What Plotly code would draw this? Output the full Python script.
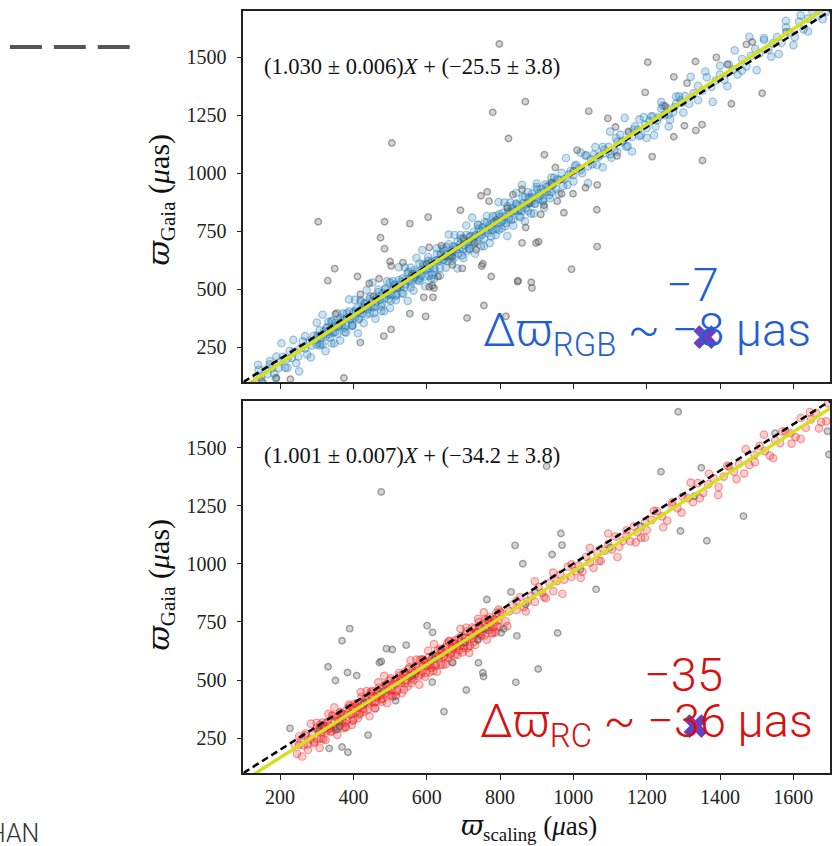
import plotly.graph_objects as go

# ---------------------------------------------------------------------------
# Data: asteroseismic scaling parallax vs Gaia parallax (micro-arcsec)
# ---------------------------------------------------------------------------

# Red-giant-branch stars kept in the fit (core of the relation)
rgb_x = [
    130, 136, 142, 148, 154, 160, 166, 172, 178, 184, 190, 196, 202, 208, 214, 220, 226, 232, 238, 244,
    250, 256, 262, 268, 274, 280, 286, 292, 298,
    300, 304, 308, 312, 316, 320, 324, 328, 332, 336, 340, 344, 348, 352, 356, 360, 364, 368, 372, 376,
    380, 384, 388, 392, 396, 400, 404, 408, 412, 416, 420, 424, 428, 432, 436, 440, 444, 448, 452, 456,
    460, 464, 468, 472, 476, 480, 484, 488, 492, 496, 500, 504, 508, 512, 516, 520, 524, 528, 532, 536,
    540, 544, 548, 552, 556, 560, 564, 568, 572, 576, 580, 584, 588, 592, 596, 600, 604, 608, 612, 616,
    620, 624, 628, 632, 636, 640, 644, 648, 652, 656, 660, 664, 668, 672, 676, 680, 684, 688, 692, 696,
    700, 704, 708, 712, 716, 720, 724, 728, 732, 736, 740, 744, 748, 752, 756, 760, 764, 768, 772, 776,
    780, 784, 788, 792, 796, 800, 804, 808, 812, 816, 820, 824, 828, 832, 836, 840, 844, 848, 852, 856,
    860, 864, 868, 872, 876, 880, 884, 888, 892, 896, 900, 904, 908, 912, 916, 920, 924, 928, 932, 936,
    940, 944, 948,
    302, 310, 318, 326, 334, 342, 350, 358, 366, 374, 382, 390, 398, 406, 414, 422, 430, 438, 446, 454,
    462, 470, 478, 486, 494, 502, 510, 518, 526, 534, 542, 550, 558, 566, 574, 582, 590, 598, 606, 614,
    622, 630, 638, 646, 654, 662, 670, 678, 686, 694, 702, 710, 718, 726, 734, 742, 750, 758, 766, 774,
    782, 790, 798, 806, 814, 822, 830, 838, 846, 854, 862, 870, 878, 886, 894, 902, 910, 918, 926, 934,
    942,
    952, 960, 968, 976, 984, 992, 1000, 1008, 1016, 1024, 1032, 1040, 1048, 1056, 1064, 1072, 1080, 1088,
    1096, 1104, 1112, 1120, 1128, 1136, 1144, 1152, 1160, 1168, 1176, 1184, 1192, 1200, 1208, 1216, 1224,
    1232, 1240, 1248, 1256, 1264, 1272, 1280, 1288, 1296,
    956, 972, 988, 1004, 1020, 1036, 1052, 1068, 1084, 1100, 1116, 1132, 1148, 1164, 1180, 1196, 1212,
    1228, 1244, 1260, 1276, 1292,
    1304, 1316, 1328, 1340, 1352, 1364, 1376, 1388, 1400, 1412, 1424, 1436, 1448, 1460, 1472, 1484, 1496,
    1508, 1520, 1532, 1544, 1556, 1568, 1580, 1592, 1604, 1616, 1628, 1640, 1652, 1664, 1676, 1688, 1700,
]
rgb_y = [
    87, 123, 152, 122, 95, 153, 134, 176, 160, 136, 210, 160, 189, 208, 162, 199, 234, 204, 231, 181,
    210, 246, 275, 245, 219, 277, 257, 299, 283,
    262, 296, 323, 291, 262, 318, 296, 336, 318, 292, 364, 313, 339, 356, 308, 343, 376, 344, 368, 316,
    343, 378, 405, 373, 344, 400, 378, 418, 400, 374, 446, 395, 421, 438, 390, 425, 458, 426, 450, 398,
    426, 460, 487, 455, 426, 482, 460, 500, 482, 457, 529, 477, 503, 520, 472, 507, 540, 509, 533, 481,
    508, 542, 569, 537, 508, 565, 543, 583, 565, 539, 611, 559, 585, 603, 555, 590, 623, 591, 615, 563,
    590, 624, 652, 620, 591, 647, 625, 665, 647, 621, 694, 642, 668, 685, 637, 672, 705, 673, 698, 646,
    673, 707, 734, 702, 673, 729, 707, 748, 730, 704, 776, 724, 750, 767, 719, 755, 788, 756, 780, 728,
    755, 789, 816, 785, 756, 812, 790, 830, 812, 786, 858, 806, 833, 850, 802, 837, 870, 838, 862, 810,
    838, 872, 899, 867, 838, 894, 872, 912, 895, 869, 941, 889, 915, 932, 884, 919, 952, 921, 945, 893,
    920, 954, 981,
    301, 264, 305, 332, 307, 361, 316, 339, 361, 333, 396, 369, 344, 407, 370, 412, 439, 414, 468, 422,
    446, 468, 440, 502, 476, 451, 514, 477, 518, 546, 521, 575, 529, 553, 575, 547, 609, 583, 558, 621,
    584, 626, 653, 628, 682, 637, 660, 682, 654, 717, 690, 665, 728, 691, 733, 760, 735, 789, 744, 767,
    789, 761, 824, 797, 772, 835, 799, 840, 867, 842, 897, 851, 874, 896, 869, 931, 904, 879, 942, 906,
    947,
    933, 971, 1002, 975, 950, 1010, 993, 1037, 1023, 1001, 1077, 1030, 1060, 1081, 1037, 1077, 1114, 1086,
    1114, 1067, 1098, 1136, 1167, 1140, 1115, 1175, 1157, 1202, 1188, 1166, 1242, 1195, 1225, 1246, 1202,
    1241, 1279, 1251, 1279, 1231, 1263, 1301, 1332, 1304,
    974, 946, 995, 1031, 1014, 1077, 1039, 1071, 1101, 1082, 1152, 1133, 1117, 1188, 1160, 1209, 1245,
    1228, 1291, 1253, 1285, 1315,
    1333, 1300, 1345, 1377, 1356, 1414, 1373, 1400, 1426, 1403, 1469, 1447, 1426, 1493, 1461, 1506, 1537,
    1517, 1575, 1533, 1561, 1587, 1563, 1630, 1607, 1587, 1654, 1621, 1667, 1698, 1677, 1736, 1694, 1721,
]

# Red-giant-branch stars kept in the fit (wider scatter around the relation)
rgb_halo_x = [
    140, 156, 172, 188, 204, 220, 236, 252, 268, 284,
    300, 308, 316, 324, 332, 340, 348, 356, 364, 372, 380, 388, 396, 404, 412, 420, 428, 436, 444, 452,
    460, 468, 476, 484, 492, 500, 508, 516, 524, 532, 540, 548, 556, 564, 572, 580, 588, 596, 604, 612,
    620, 628, 636, 644, 652, 660, 668, 676, 684, 692, 700, 708, 716, 724, 732, 740, 748, 756, 764, 772,
    780, 788, 796, 804, 812, 820, 828, 836, 844, 852, 860, 868, 876, 884, 892, 900,
    920, 940, 960, 980, 1000, 1020, 1040, 1060, 1080, 1100, 1120, 1140, 1160, 1180, 1200, 1220, 1240,
    1260, 1280, 1300, 1320, 1340, 1360, 1380, 1400, 1420, 1440, 1460, 1480, 1500, 1520, 1540, 1560,
    1580, 1600, 1620, 1640, 1660, 1680, 1700,
]
rgb_halo_y = [
    174, 65, 190, 116, 267, 161, 282, 146, 298, 206,
    356, 257, 390, 233, 359, 266, 267, 396, 279, 395, 313, 456, 342, 454, 310, 453, 354, 495, 396, 529,
    373, 499, 406, 406, 535, 419, 535, 453, 595, 482, 594, 450, 593, 494, 635, 536, 669, 513, 639, 546,
    546, 676, 559, 675, 593, 736, 622, 734, 590, 734, 634, 775, 676, 809, 653, 779, 686, 686, 816, 699,
    815, 733, 876, 762, 874, 730, 874, 774, 915, 816, 950, 793, 919, 826, 827, 956,
    852, 981, 911, 1066, 965, 1089, 958, 1113, 1026, 1180, 1093, 1239, 1094, 1233, 1153, 1165, 1307,
    1202, 1331, 1262, 1416, 1315, 1439, 1308, 1464, 1376, 1530, 1443, 1589, 1445, 1583, 1503, 1515,
    1657, 1553, 1681, 1612, 1766, 1665, 1790,
]

# Red-giant-branch stars rejected as outliers
rgb_out_x = [
    798, 869, 780, 823, 505, 304, 485, 554, 604, 692, 748, 765, 770, 835, 860, 870, 898, 474, 485, 500,
    503, 535, 349, 330, 411, 419, 470, 443, 554, 597, 503, 483, 419, 374, 351, 607, 620, 615, 592, 617,
    631, 670, 697, 753, 776, 756, 816, 710, 849, 885, 607, 640, 735, 750, 670,
    1203, 1333, 1390, 1274, 1310, 1196, 1042, 1094, 1115, 1119, 1303, 1334, 1351, 1274, 1215, 1352, 1431,
    1515, 1472, 1488, 1010, 921, 951, 1033, 1065, 968, 999, 956, 920, 911, 974, 1064, 860, 905, 1065,
    995, 848, 887,
    190, 228, 150,
    420, 455, 520, 560, 600, 650, 700, 730, 790, 820, 880, 940, 1000, 1150, 1250, 1420, 1580,
]
rgb_out_y = [
    1558, 1309, 1263, 1150, 1131, 791, 791, 783, 811, 841, 903, 920, 880, 908, 930, 766, 700, 722, 675, 620,
    600, 615, 589, 537, 555, 478, 545, 525, 395, 383, 327, 298, 270, 117, 393, 510, 505, 515, 465, 465,
    555, 605, 590, 610, 555, 430, 383, 376, 537, 530, 680, 688, 670, 600, 640,
    1479, 1482, 1500, 1416, 1389, 1349, 1268, 1237, 1200, 1075, 1205, 1185, 1210, 1158, 1072, 1055, 1300,
    1345, 1556, 1566, 1100, 1080, 1025, 938, 950, 912, 912, 880, 862, 823, 830, 843, 700, 705, 684,
    586, 533, 506,
    117, 112, 104,
    410, 470, 505, 560, 610, 640, 720, 700, 800, 850, 870, 960, 1010, 1180, 1290, 1470, 1610,
]

# Red-clump stars kept in the fit (core of the relation)
rc_x = [
    240, 246, 252, 258, 264, 270, 276, 282, 288, 294, 300,
    302, 306, 310, 314, 318, 322, 326, 330, 334, 338, 342, 346, 350, 354, 358, 362, 366, 370, 374, 378,
    382, 386, 390, 394, 398, 402, 406, 410, 414, 418, 422, 426, 430, 434, 438, 442, 446, 450, 454, 458,
    462, 466, 470, 474, 478, 482, 486, 490, 494, 498, 502, 506, 510, 514, 518, 522, 526, 530, 534, 538,
    542, 546, 550, 554, 558, 562, 566, 570, 574, 578, 582, 586, 590, 594, 598, 602, 606, 610, 614, 618,
    622, 626, 630, 634, 638, 642, 646, 650, 654, 658, 662, 666, 670, 674, 678, 682, 686, 690, 694, 698,
    702, 706, 710, 714, 718, 722, 726, 730, 734, 738, 742, 746, 750, 754, 758, 762, 766, 770, 774, 778,
    782, 786, 790, 794, 798,
    304, 312, 320, 328, 336, 344, 352, 360, 368, 376, 384, 392, 400, 408, 416, 424, 432, 440, 448, 456,
    464, 472, 480, 488, 496, 504, 512, 520, 528, 536, 544, 552, 560, 568, 576, 584, 592, 600, 608, 616,
    624, 632, 640, 648, 656, 664, 672, 680, 688, 696, 704, 712, 720, 728, 736, 744, 752, 760, 768, 776,
    784, 792, 800,
    805, 815, 825, 835, 845, 855, 865, 875, 885, 895, 905, 915, 925, 935, 945, 955, 965, 975, 985, 995,
    1005, 1015, 1025, 1035, 1045, 1055, 1065, 1075, 1085, 1095, 1105, 1115, 1125, 1135, 1145, 1155, 1165,
    1175, 1185, 1195,
    1200, 1214, 1228, 1242, 1256, 1270, 1284, 1298, 1312, 1326, 1340, 1354, 1368, 1382, 1396, 1410, 1424,
    1438, 1452, 1466, 1480, 1494, 1508, 1522, 1536, 1550, 1564, 1578, 1592, 1606, 1620, 1634, 1648, 1662,
    1676, 1690,
]
rc_y = [
    221, 182, 221, 246, 219, 271, 223, 244, 264, 234, 294,
    246, 280, 307, 275, 246, 302, 280, 320, 302, 276, 348, 296, 322, 339, 291, 326, 359, 327, 351, 299,
    326, 360, 387, 355, 326, 382, 360, 400, 382, 356, 428, 376, 402, 419, 371, 406, 439, 407, 431, 379,
    406, 440, 467, 435, 406, 462, 440, 480, 462, 436, 508, 456, 482, 499, 451, 486, 519, 487, 511, 459,
    486, 520, 547, 515, 486, 542, 520, 560, 542, 516, 588, 536, 562, 579, 531, 566, 599, 567, 591, 539,
    566, 600, 627, 595, 566, 622, 600, 640, 622, 596, 668, 616, 642, 659, 611, 646, 679, 647, 671, 619,
    647, 681, 708, 676, 647, 703, 681, 721, 703, 677, 749, 697, 723, 740, 692, 727, 760, 728, 752, 700,
    727, 761, 788, 756, 727,
    285, 248, 289, 316, 291, 345, 299, 322, 344, 316, 378, 351, 326, 389, 352, 393, 420, 395, 449, 403,
    426, 448, 420, 482, 455, 430, 493, 456, 497, 524, 499, 553, 507, 530, 552, 524, 586, 559, 534, 597,
    560, 601, 628, 603, 657, 611, 634, 656, 628, 690, 663, 638, 701, 664, 705, 732, 707, 761, 715, 738,
    760, 732, 794,
    787, 752, 795, 824, 801, 857, 813, 838, 862, 836, 900, 875, 852, 917, 882, 925, 954, 931, 987, 943,
    968, 992, 966, 1030, 1005, 982, 1047, 1012, 1055, 1084, 1061, 1117, 1073, 1098, 1122, 1096, 1160,
    1135, 1112, 1177,
    1145, 1189, 1226, 1204, 1185, 1251, 1239, 1289, 1281, 1265, 1347, 1305, 1341, 1368, 1330, 1375, 1418,
    1396, 1430, 1388, 1425, 1469, 1506, 1484, 1465, 1531, 1519, 1569, 1561, 1545, 1627, 1585, 1621, 1648,
    1610, 1612,
]

# Red-clump stars kept in the fit (wider scatter around the relation)
rc_halo_x = [
    252, 260, 268, 276, 284, 292, 300, 308, 316, 324, 332, 340, 348, 356, 364, 372, 380, 388, 396, 404,
    412, 420, 428, 436, 444, 452, 460, 468, 476, 484, 492, 500, 508, 516, 524, 532, 540, 548, 556, 564,
    572, 580, 588, 596, 604, 612, 620, 628, 636, 644, 652, 660, 668, 676, 684, 692, 700, 708, 716, 724,
    732, 740, 748, 756, 764, 772, 780, 788, 796,
    820, 845, 870, 895, 920, 945, 970, 995, 1020, 1045, 1070, 1095, 1120, 1145, 1170, 1195, 1220, 1245,
    1270, 1295, 1320, 1345, 1370, 1395, 1420, 1445, 1470, 1495, 1520, 1545, 1570, 1595, 1620, 1645,
    1670, 1695,
]
rc_halo_y = [
    258, 171, 262, 200, 312, 228, 316, 208, 317, 242, 354, 281, 382, 264, 362, 293, 296, 394, 307, 398,
    336, 448, 364, 452, 344, 453, 378, 490, 417, 518, 400, 498, 429, 432, 530, 443, 534, 472, 584, 500,
    588, 480, 589, 514, 626, 553, 654, 536, 634, 565, 568, 666, 579, 670, 608, 720, 637, 725, 617, 726,
    651, 763, 690, 791, 673, 771, 702, 705, 803,
    732, 840, 795, 924, 857, 962, 871, 997, 939, 1068, 1012, 1130, 1029, 1144, 1092, 1112, 1227, 1157,
    1265, 1220, 1349, 1282, 1387, 1296, 1422, 1364, 1493, 1437, 1555, 1454, 1569, 1517, 1537, 1652,
    1582, 1690,
]

# Red-clump stars rejected as outliers
rc_out_x = [
    476, 841, 390, 369, 331, 601, 616, 490, 506, 544, 476, 471, 384, 409, 351, 671, 741, 753, 755, 740,
    803, 810, 846, 904, 615, 708, 515, 647, 440, 334, 369, 385, 352, 363, 308, 227, 764, 830,
    1286, 1239, 1349, 1550, 1693, 1697, 1464, 1292, 1364, 1185, 966, 969, 942, 862, 1019, 895, 870, 1062,
    957, 843, 927,
    430, 480, 560, 620, 700, 760, 1100, 1330,
]
rc_out_y = [
    1309, 1079, 721, 669, 557, 734, 705, 635, 631, 650, 580, 575, 532, 519, 498, 574, 574, 531, 515, 672,
    703, 720, 690, 547, 491, 457, 411, 364, 263, 206, 212, 189, 285, 300, 285, 292, 846, 879,
    1654, 1396, 1413, 1561, 1570, 1470, 1205, 1141, 1099, 1160, 1130, 1080, 1040, 1000, 975, 880, 826, 890,
    702, 490, 1419,
    400, 450, 520, 590, 660, 720, 1070, 1290,
]

# Linear fits  y = slope * x + intercept  (with quoted uncertainties)
fit_slope = [1.030, 1.001]
fit_slope_err = [0.006, 0.007]
fit_intercept = [-25.5, -34.2]
fit_intercept_err = [3.8, 3.8]

# Parallax offset summary for each population
offset_label = ["RGB", "RC"]
offset_value = [-8, -36]
offset_prev = [-7, -35]
cross_x = [1360, 1333]
cross_y = [294, 302]

axis_range = [100, 1700]
x_ticks = [200, 400, 600, 800, 1000, 1200, 1400, 1600]
y_ticks = [250, 500, 750, 1000, 1250, 1500]

# ---------------------------------------------------------------------------
# Page geometry (pixels)
# ---------------------------------------------------------------------------
W, H = 832, 846
PLOT_LEFT = 244
PANEL_TOP = [11, 401]
PANEL_BOTTOM = [382, 773]


def fx(px):
    return px / W


def fy(py):
    return 1 - py / H


SERIF = "Liberation Serif"
SANS = "Roboto"
BLUE_TXT = "#1f5fd6"
RED_TXT = "#d5100f"
PURPLE = "#6a3fc1"
VARPI = "<span style='font-family:DejaVu Serif'><i>ϖ</i></span>"

fig = go.Figure()

panels = [
    dict(x=rgb_x + rgb_halo_x, y=rgb_y + rgb_halo_y, ox=rgb_out_x, oy=rgb_out_y,
         fill="rgba(31,119,180,0.22)", edge="rgba(31,119,180,0.40)", xa="x", ya="y"),
    dict(x=rc_x + rc_halo_x, y=rc_y + rc_halo_y, ox=rc_out_x, oy=rc_out_y,
         fill="rgba(235,25,25,0.21)", edge="rgba(235,25,25,0.40)", xa="x2", ya="y2"),
]

for i, p in enumerate(panels):
    fig.add_trace(go.Scatter(
        x=p["x"], y=p["y"], mode="markers", xaxis=p["xa"], yaxis=p["ya"],
        marker=dict(size=7.5, color=p["fill"], line=dict(color=p["edge"], width=1.2)),
        hoverinfo="skip", showlegend=False))
    fig.add_trace(go.Scatter(
        x=p["ox"], y=p["oy"], mode="markers", xaxis=p["xa"], yaxis=p["ya"],
        marker=dict(size=6.5, color="rgba(90,90,90,0.26)",
                    line=dict(color="rgba(80,80,80,0.50)", width=1.4)),
        hoverinfo="skip", showlegend=False))
    # one-to-one reference line
    fig.add_trace(go.Scatter(
        x=axis_range, y=axis_range, mode="lines", xaxis=p["xa"], yaxis=p["ya"],
        line=dict(color="black", width=2.5, dash="7px,4px"),
        hoverinfo="skip", showlegend=False))
    # fitted relation
    fit_y = [fit_slope[i] * v + fit_intercept[i] for v in axis_range]
    fig.add_trace(go.Scatter(
        x=axis_range, y=fit_y, mode="lines", xaxis=p["xa"], yaxis=p["ya"],
        line=dict(color="#d6df1e", width=3.4),
        hoverinfo="skip", showlegend=False))
    # offset marker
    fig.add_trace(go.Scatter(
        x=[cross_x[i]], y=[cross_y[i]], mode="markers", xaxis=p["xa"], yaxis=p["ya"],
        marker=dict(symbol="x", size=21, color=PURPLE, line=dict(width=0)),
        hoverinfo="skip", showlegend=False))

axis_common = dict(
    range=axis_range, showgrid=False, zeroline=False, showline=True, mirror=True,
    linecolor="#222222", linewidth=1.6, ticks="outside", ticklen=5, tickwidth=1.2,
    tickcolor="#222222", tickfont=dict(family=SERIF, size=20, color="#222222"),
)

fig.update_layout(
    width=W, height=H, margin=dict(l=0, r=0, t=0, b=0),
    paper_bgcolor="white", plot_bgcolor="white", showlegend=False,
    xaxis=dict(axis_common, domain=[fx(PLOT_LEFT), 1.0], anchor="y",
               tickvals=x_ticks, showticklabels=False),
    yaxis=dict(axis_common, domain=[fy(PANEL_BOTTOM[0]), fy(PANEL_TOP[0])], anchor="x",
               tickvals=y_ticks, ticklabelstandoff=6),
    xaxis2=dict(axis_common, domain=[fx(PLOT_LEFT), 1.0], anchor="y2",
                tickvals=x_ticks),
    yaxis2=dict(axis_common, domain=[fy(PANEL_BOTTOM[1]), fy(PANEL_TOP[1])], anchor="x2",
                tickvals=y_ticks, ticklabelstandoff=6),
)

ann = []
# fit equations
for i in range(2):
    eq = (f"({fit_slope[i]:.3f} ± {fit_slope_err[i]:.3f})<i>X</i> + "
          f"(−{abs(fit_intercept[i]):.1f} ± {fit_intercept_err[i]:.1f})")
    ann.append(dict(text=eq, xref="paper", yref="paper", x=fx(263),
                    y=fy([66, 455][i]), xanchor="left", yanchor="middle", showarrow=False,
                    font=dict(family=SERIF, size=22.5, color="#111111")))

# offset summaries
colors = [BLUE_TXT, RED_TXT]
main_pos = [(482, 333), (479, 724)]
prev_pos = [(694, 284), (685, 674)]
for i in range(2):
    txt = (f"Δϖ<sub>{offset_label[i]}</sub> ~ −{abs(offset_value[i])} μas")
    ann.append(dict(text=txt, xref="paper", yref="paper", x=fx(main_pos[i][0]),
                    y=fy(main_pos[i][1]), xanchor="left", yanchor="middle", showarrow=False,
                    font=dict(family=SANS, size=47, color=colors[i], weight=300)))
    ann.append(dict(text=f"−{abs(offset_prev[i])}", xref="paper", yref="paper",
                    x=fx(prev_pos[i][0]), y=fy(prev_pos[i][1]), xanchor="center",
                    yanchor="middle", showarrow=False,
                    font=dict(family=SANS, size=47, color=colors[i], weight=300)))

# axis titles
for cy in [200, 585]:
    ann.append(dict(text=f"{VARPI}<sub>Gaia</sub> (<i>μ</i>as)", xref="paper", yref="paper",
                    x=fx(160), y=fy(cy), xanchor="center", yanchor="middle",
                    textangle=-90, showarrow=False,
                    font=dict(family=SERIF, size=30, color="#111111")))
ann.append(dict(text=f"{VARPI}<sub>scaling</sub> (<i>μ</i>as)", xref="paper", yref="paper",
                x=fx(530), y=fy(827), xanchor="center", yanchor="middle", showarrow=False,
                font=dict(family=SERIF, size=27, color="#111111")))

# slide fragment text at lower left
ann.append(dict(text="HAN", xref="paper", yref="paper", x=fx(41), y=fy(833),
                xanchor="right", yanchor="middle", showarrow=False,
                font=dict(family=SANS, size=25, color="#333333", weight=300)))
fig.update_layout(annotations=ann)

# dashed legend fragment at upper left
for x0, x1 in [(10, 42), (54, 86), (98, 130)]:
    fig.add_shape(type="line", xref="paper", yref="paper",
                  x0=fx(x0), x1=fx(x1), y0=fy(47), y1=fy(47),
                  line=dict(color="#555555", width=4))

fig.write_html("out.html")
